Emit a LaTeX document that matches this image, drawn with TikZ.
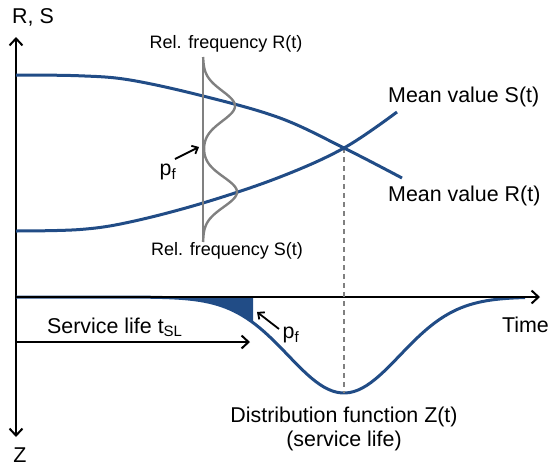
\documentclass[tikz,border=0pt]{standalone}
\usepackage{fontspec}
\setmainfont{Liberation Sans}
\usetikzlibrary{arrows.meta}
\definecolor{curveblue}{RGB}{33,76,134}
\definecolor{distgray}{RGB}{128,128,128}
\begin{document}
\begin{tikzpicture}[x=1pt,y=-1pt,
  axisline/.style={line width=2pt,black},
  barb/.style={-{Straight Barb[length=7pt,width=13pt,line width=2pt]}},
  smallbarb/.style={-{Straight Barb[length=5pt,width=9pt,line width=1.8pt]}},
  meancurve/.style={line width=3pt,curveblue},
  freqcurve/.style={line width=2.4pt,distgray},
  bigtext/.style={font=\fontsize{21.4}{24}\selectfont,inner sep=0pt},
  smalltext/.style={font=\fontsize{18}{21}\selectfont,inner sep=0pt}]
\useasboundingbox (0,0) rectangle (550,466);

% axes
\coordinate (origin) at (16,297);
\coordinate (ytop) at (16,37);
\coordinate (ybot) at (16,437);
\coordinate (xend) at (540,297);
\draw[axisline,barb] (origin) -- (ytop);
\draw[axisline,barb] (origin) -- (ybot);

% shaded failure area
\fill[curveblue] plot[domain=150:253,samples=40,variable=\t]
  ({\t},{297+96*exp(-((\t-344)/56)*((\t-344)/56)/2)}) -- (253,297) -- cycle;

% Z(t) curve
\draw[meancurve] plot[domain=16:525,samples=120,variable=\t]
  ({\t},{297+96*exp(-((\t-344)/56)*((\t-344)/56)/2)});

\draw[axisline,barb] (origin) -- (xend);

% dashed line
\coordinate (cross) at (344,148);
\coordinate (zmin) at (344,393);
\draw[distgray,line width=1.3pt,dash pattern=on 5pt off 4pt] (cross) -- (zmin);

% mean value curves
\draw[meancurve] plot[smooth,tension=0.6] coordinates
  {(16,75) (80,75.8) (130,80) (203,96) (280,118) (344,148) (402,178)};
\draw[meancurve] plot[smooth,tension=0.6] coordinates
  {(16,231) (80,229.5) (130,222) (203,203) (280,177) (344,148) (397,112)};

% frequency distributions
\coordinate (ftop) at (203,57);
\coordinate (fbot) at (203,242);
\draw[freqcurve] (ftop) -- (fbot);
\draw[freqcurve] plot[domain=57:242,samples=120,variable=\t]
  ({203+32*exp(-((\t-106)/15)*((\t-106)/15)/2)+34*exp(-((\t-192)/15)*((\t-192)/15)/2)},{\t});

% labels
\node[bigtext] (rs) at (33,17) {R, S};
\node[bigtext] (zlab) at (20,455) {Z};
\node[bigtext,anchor=east] (time) at (549,325) {Time};
\node[smalltext] (relR) at (226,44) {Rel. frequency R(t)};
\node[smalltext] (relS) at (227,251) {Rel. frequency S(t)};
\node[bigtext,anchor=west] (meanS) at (388,97) {Mean value S(t)};
\node[bigtext,anchor=west] (meanR) at (388,196) {Mean value R(t)};
\node[bigtext] (dist) at (344,417) {Distribution function Z(t)};
\node[bigtext] (dist2) at (344,441) {(service life)};
\node[bigtext,anchor=west] (sl) at (47,327) {Service life t\textsubscript{SL}};

% p_f labels and arrows
\node[bigtext] (pf1) at (168,172) {p\textsubscript{f}};
\coordinate (pf1tip) at (199,147);
\draw[line width=1.8pt,smallbarb] (175,159) -- (pf1tip);
\node[bigtext] (pf2) at (291,335) {p\textsubscript{f}};
\coordinate (pf2tip) at (257,312);
\draw[line width=1.8pt,smallbarb] (279,329) -- (pf2tip);

% service life arrow
\coordinate (slend) at (250,342);
\draw[axisline,barb] (16,342) -- (slend);
\end{tikzpicture}
\end{document}
